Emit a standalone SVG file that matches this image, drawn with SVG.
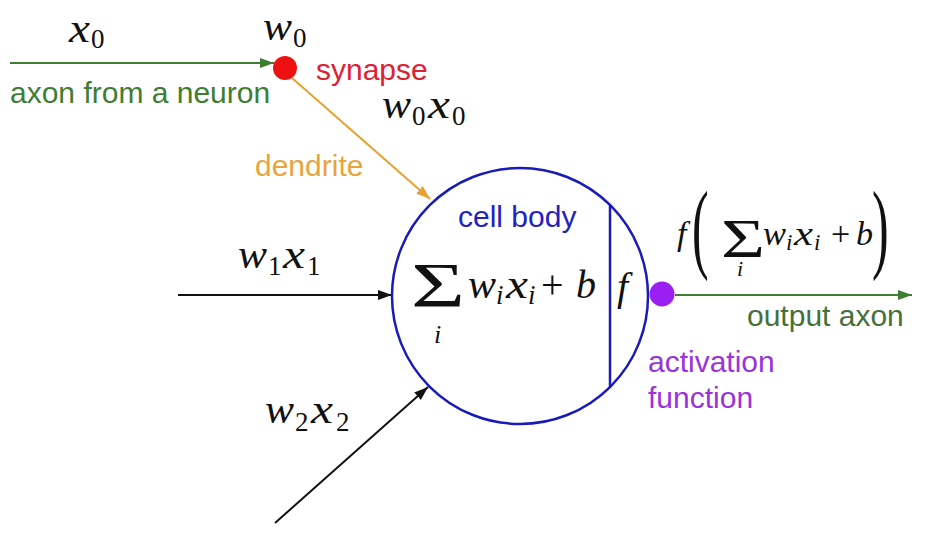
<svg xmlns="http://www.w3.org/2000/svg" width="929" height="552" viewBox="0 0 929 552">
<style>
.lbl{font-family:"Liberation Sans",Arial,sans-serif;font-size:30px}
.mi{font-family:"Liberation Serif","Times New Roman",serif;font-style:italic;fill:#111}
.mn{font-family:"Liberation Serif","Times New Roman",serif;fill:#111}
.big{font-size:40px}
.sub{font-size:27px}
.med{font-size:34px}
.smsub{font-size:23px}
</style>
<defs>
<marker id="ag" markerUnits="userSpaceOnUse" markerWidth="16" markerHeight="12" refX="14" refY="5" orient="auto"><path d="M0,0 L14,5 L0,10 z" fill="#3f7d30"/></marker>
<marker id="ao" markerUnits="userSpaceOnUse" markerWidth="16" markerHeight="12" refX="14" refY="5" orient="auto"><path d="M0,0 L14,5 L0,10 z" fill="#e8a030"/></marker>
<marker id="ak" markerUnits="userSpaceOnUse" markerWidth="16" markerHeight="12" refX="14" refY="5" orient="auto"><path d="M0,0 L14,5 L0,10 z" fill="#111"/></marker>
</defs>
<rect width="929" height="552" fill="#fff"/>
<g id="connectors" stroke-width="2" fill="none">
<line x1="10" y1="63" x2="274" y2="63" stroke="#3f7d30" marker-end="url(#ag)"/>
<line x1="292" y1="78" x2="430" y2="199" stroke="#e8a030" marker-end="url(#ao)"/>
<line x1="178" y1="295" x2="392" y2="295" stroke="#111" marker-end="url(#ak)"/>
<line x1="275" y1="523" x2="428" y2="387" stroke="#111" marker-end="url(#ak)"/>
<line x1="675" y1="295" x2="912" y2="295" stroke="#3f7d30" marker-end="url(#ag)"/>
</g>
<g id="input-x0">
<text class="mi big" x="69" y="42" textLength="21" lengthAdjust="spacingAndGlyphs">x</text><text class="mn sub" x="91" y="48">0</text>
<text class="lbl" x="10" y="103" fill="#3f7d30">axon from a neuron</text>
</g>
<g id="synapse">
<circle cx="285" cy="68" r="12" fill="#ee1111"/>
<text class="mi big" x="263" y="40" textLength="29" lengthAdjust="spacingAndGlyphs">w</text><text class="mn sub" x="293" y="47">0</text>
<text class="lbl" x="316" y="80" fill="#dd2233">synapse</text>
</g>
<g id="dendrite">
<text class="mi big" x="382" y="118" textLength="29" lengthAdjust="spacingAndGlyphs">w</text><text class="mn sub" x="412" y="125">0</text>
<text class="mi big" x="428" y="118" textLength="22" lengthAdjust="spacingAndGlyphs">x</text><text class="mn sub" x="452" y="125">0</text>
<text class="lbl" x="255" y="176" fill="#e8a53c">dendrite</text>
</g>
<g id="input-w1x1">
<text class="mi big" x="238" y="268" textLength="29" lengthAdjust="spacingAndGlyphs">w</text><text class="mn sub" x="268" y="275">1</text>
<text class="mi big" x="283" y="268" textLength="22" lengthAdjust="spacingAndGlyphs">x</text><text class="mn sub" x="307" y="275">1</text>
</g>
<g id="input-w2x2">
<text class="mi big" x="265" y="423" textLength="29" lengthAdjust="spacingAndGlyphs">w</text><text class="mn sub" x="295" y="431">2</text>
<text class="mi big" x="311" y="423" textLength="22" lengthAdjust="spacingAndGlyphs">x</text><text class="mn sub" x="336" y="431">2</text>
</g>
<g id="cell-body">
<circle cx="520" cy="296" r="128" fill="none" stroke="#1a1ab8" stroke-width="2.5"/>
<line x1="610" y1="205" x2="610" y2="387" stroke="#1a1ab8" stroke-width="2.5"/>
<text class="lbl" x="458" y="227" fill="#2222c0">cell body</text>
<text class="mn" transform="translate(411,307) scale(1.45,1)" font-size="64">Σ</text>
<text class="mi" x="434" y="343" font-size="26">i</text>
<text class="mi big" x="468" y="298" textLength="28" lengthAdjust="spacingAndGlyphs">w</text><text class="mi sub" x="496" y="304">i</text>
<text class="mi big" x="506" y="298" textLength="22" lengthAdjust="spacingAndGlyphs">x</text><text class="mi sub" x="528" y="304">i</text>
<text class="mn big" x="541" y="298">+</text>
<text class="mi big" x="576" y="298">b</text>
<text class="mi big" x="617" y="300">f</text>
</g>
<g id="activation">
<circle cx="662" cy="294" r="12.5" fill="#9a1ff0"/>
<text class="lbl" x="648" y="372" fill="#9933dd">activation</text>
<text class="lbl" x="648" y="408" fill="#9933dd">function</text>
</g>
<g id="output">
<text class="mi med" x="677" y="245">f</text>
<text class="mn" transform="translate(692,260) scale(0.5,1)" font-size="100">(</text>
<text class="mn" transform="translate(721,257) scale(1.4,1)" font-size="54">Σ</text>
<text class="mi" x="737" y="276" font-size="22">i</text>
<text class="mi med" x="763" y="245" textLength="23" lengthAdjust="spacingAndGlyphs">w</text><text class="mi smsub" x="786" y="250">i</text>
<text class="mi med" x="794" y="245" textLength="19" lengthAdjust="spacingAndGlyphs">x</text><text class="mi smsub" x="814" y="250">i</text>
<text class="mn med" x="831" y="245">+</text>
<text class="mi med" x="856" y="245">b</text>
<text class="mn" transform="translate(872,260) scale(0.5,1)" font-size="100">)</text>
<text class="lbl" x="747" y="326" fill="#46703a">output axon</text>
</g>
</svg>
